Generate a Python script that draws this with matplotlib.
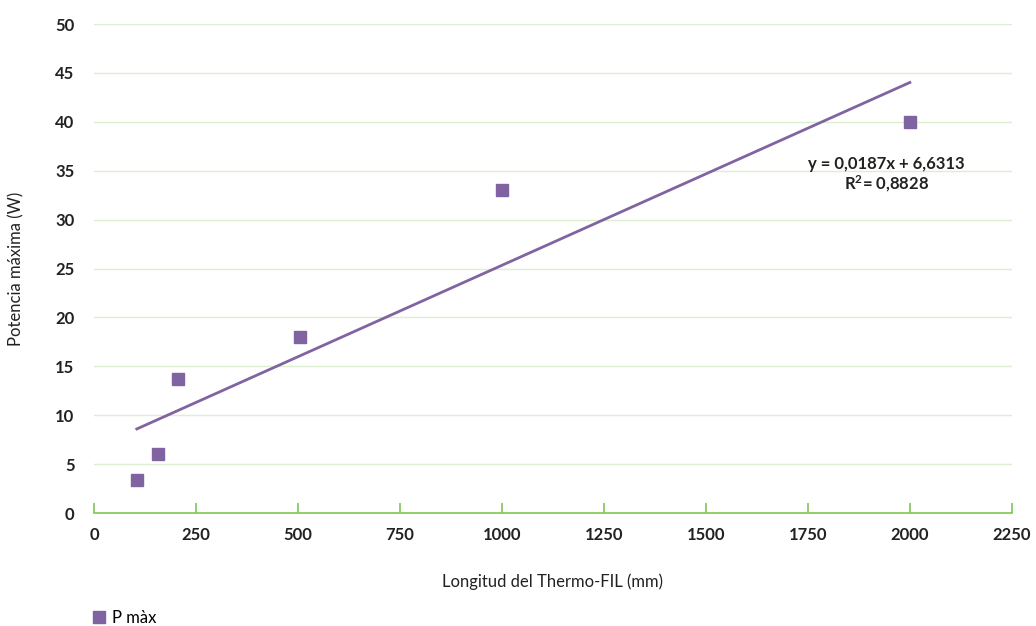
import numpy as np
import matplotlib.pyplot as plt

longitud = [105, 157, 206, 505, 1000, 2000]
potencia = [3.4, 6.0, 13.7, 18.0, 33.0, 40.0]
pendiente = 0.0187
ordenada = 6.6313
r2 = 0.8828

purple = '#8064A2'
green = '#7DC855'
grid = '#DDEFD0'

plt.rcParams['font.family'] = ['Lato', 'DejaVu Sans']
plt.rcParams['font.size'] = 12

fig = plt.figure(figsize=(10.36, 6.26), dpi=100)
ax = fig.add_axes([0.0907, 0.1805, 0.886, 0.781])

ax.plot(longitud, potencia, 's', color=purple, ms=8.5, zorder=3, label='P màx')
xt = np.array([min(longitud), max(longitud)])
ax.plot(xt, pendiente * xt + ordenada, color=purple, lw=2, zorder=2)

ax.set_xlim(0, 2250)
ax.set_ylim(0, 50)
ax.set_xticks(np.arange(0, 2251, 250))
ax.set_yticks(np.arange(0, 51, 5))
ax.yaxis.grid(True, color=grid, lw=1)
ax.set_axisbelow(True)
for s in ['top', 'right', 'left']:
    ax.spines[s].set_visible(False)
ax.spines['bottom'].set_color(green)
ax.spines['bottom'].set_linewidth(1.2)
ax.tick_params(axis='x', direction='in', length=7, color=green, width=1.2, pad=10)
ax.tick_params(axis='y', length=0, pad=14)
for lab in ax.get_xticklabels() + ax.get_yticklabels():
    lab.set_fontweight('bold')
    lab.set_color('#222222')

ax.set_xlabel('Longitud del Thermo-FIL (mm)', labelpad=22, color='#222222')
ax.set_ylabel('Potencia máxima (W)', labelpad=22, color='#222222')

ax.text(1942, 34.6, 'y = 0,0187x + 6,6313\n$\\mathregular{R^2}$= 0,8828',
        ha='center', va='center', fontweight='bold', color='#222222',
        linespacing=1.1)

ax.legend(loc='lower left', bbox_to_anchor=(-0.02, -0.262), frameon=False,
          handletextpad=0.3, handlelength=1, fontsize=12)

fig.savefig('out.png', dpi=100)
